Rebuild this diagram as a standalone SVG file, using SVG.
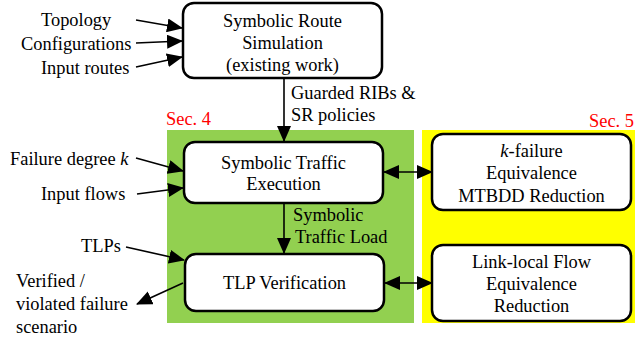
<svg xmlns="http://www.w3.org/2000/svg" width="636" height="339" viewBox="0 0 636 339" font-family="Liberation Serif, Times New Roman, serif">
<defs>
<marker id="ah" markerUnits="userSpaceOnUse" markerWidth="16" markerHeight="14" viewBox="0 0 16 14" refX="15" refY="7" orient="auto-start-reverse">
<path d="M0,0 L16,7 L0,14 Z" fill="#000"/>
</marker>
<style>
text{font-size:18.4px;fill:#000}
.c{text-anchor:middle}
.sec{fill:#ff0000}
.box{fill:#fff;stroke:#000;stroke-width:2.5}
.ln{stroke:#000;stroke-width:1.6;fill:none}
</style>
</defs>
<rect x="167" y="130" width="247" height="193" fill="#92D050"/>
<rect x="422" y="130" width="213" height="193" fill="#FFFF00"/>
<text class="sec" x="166" y="125">Sec. 4</text>
<text class="sec" x="634" y="127" text-anchor="end">Sec. 5</text>

<g id="connectors">
<line class="ln" x1="136" y1="20" x2="182" y2="28" marker-end="url(#ah)"/>
<line class="ln" x1="136" y1="43" x2="182" y2="41" marker-end="url(#ah)"/>
<line class="ln" x1="136" y1="67" x2="182" y2="57" marker-end="url(#ah)"/>
<line class="ln" x1="284" y1="78" x2="284" y2="141" marker-end="url(#ah)"/>
<line class="ln" x1="136" y1="158" x2="183" y2="171" marker-end="url(#ah)"/>
<line class="ln" x1="137" y1="194" x2="183" y2="188" marker-end="url(#ah)"/>
<line class="ln" x1="284" y1="203" x2="284" y2="253" marker-end="url(#ah)"/>
<line class="ln" x1="126" y1="247" x2="184" y2="260" marker-end="url(#ah)"/>
<line class="ln" x1="183" y1="283" x2="137" y2="304" marker-end="url(#ah)"/>
<line class="ln" x1="384" y1="172" x2="432" y2="172" marker-start="url(#ah)" marker-end="url(#ah)"/>
<line class="ln" x1="385" y1="283" x2="432" y2="283" marker-start="url(#ah)" marker-end="url(#ah)"/>
<text x="291" y="99">Guarded RIBs &amp;</text>
<text x="291" y="121">SR policies</text>
<text x="293" y="221">Symbolic</text>
<text x="295" y="243">Traffic Load</text>
</g>

<g id="inputs">
<text x="41" y="26">Topology</text>
<text x="21" y="50">Configurations</text>
<text x="41" y="74">Input routes</text>
<text x="10" y="165">Failure degree <tspan font-style="italic">k</tspan></text>
<text x="41" y="200">Input flows</text>
<text x="81" y="252">TLPs</text>
<text x="16" y="287">Verified /</text>
<text x="16" y="310">violated failure</text>
<text x="16" y="333">scenario</text>
</g>

<g id="srs">
<rect class="box" x="183" y="3" width="199" height="75" rx="11"/>
<text class="c" x="282.5" y="27">Symbolic Route</text>
<text class="c" x="282.5" y="49">Simulation</text>
<text class="c" x="282.5" y="71">(existing work)</text>
</g>

<g id="ste">
<rect class="box" x="184" y="142" width="199" height="61" rx="11"/>
<text class="c" x="283.5" y="169">Symbolic Traffic</text>
<text class="c" x="283.5" y="190">Execution</text>
</g>

<g id="tlp">
<rect class="box" x="185" y="254" width="199" height="57" rx="11"/>
<text class="c" x="284.5" y="289">TLP Verification</text>
</g>

<g id="kfail">
<rect class="box" x="432" y="134" width="199" height="76" rx="11"/>
<text class="c" x="531.5" y="157"><tspan font-style="italic">k</tspan>-failure</text>
<text class="c" x="531.5" y="179">Equivalence</text>
<text class="c" x="531.5" y="202">MTBDD Reduction</text>
</g>

<g id="linklocal">
<rect class="box" x="432" y="245" width="199" height="76" rx="11"/>
<text class="c" x="531.5" y="268">Link-local Flow</text>
<text class="c" x="531.5" y="290">Equivalence</text>
<text class="c" x="531.5" y="312">Reduction</text>
</g>
</svg>
